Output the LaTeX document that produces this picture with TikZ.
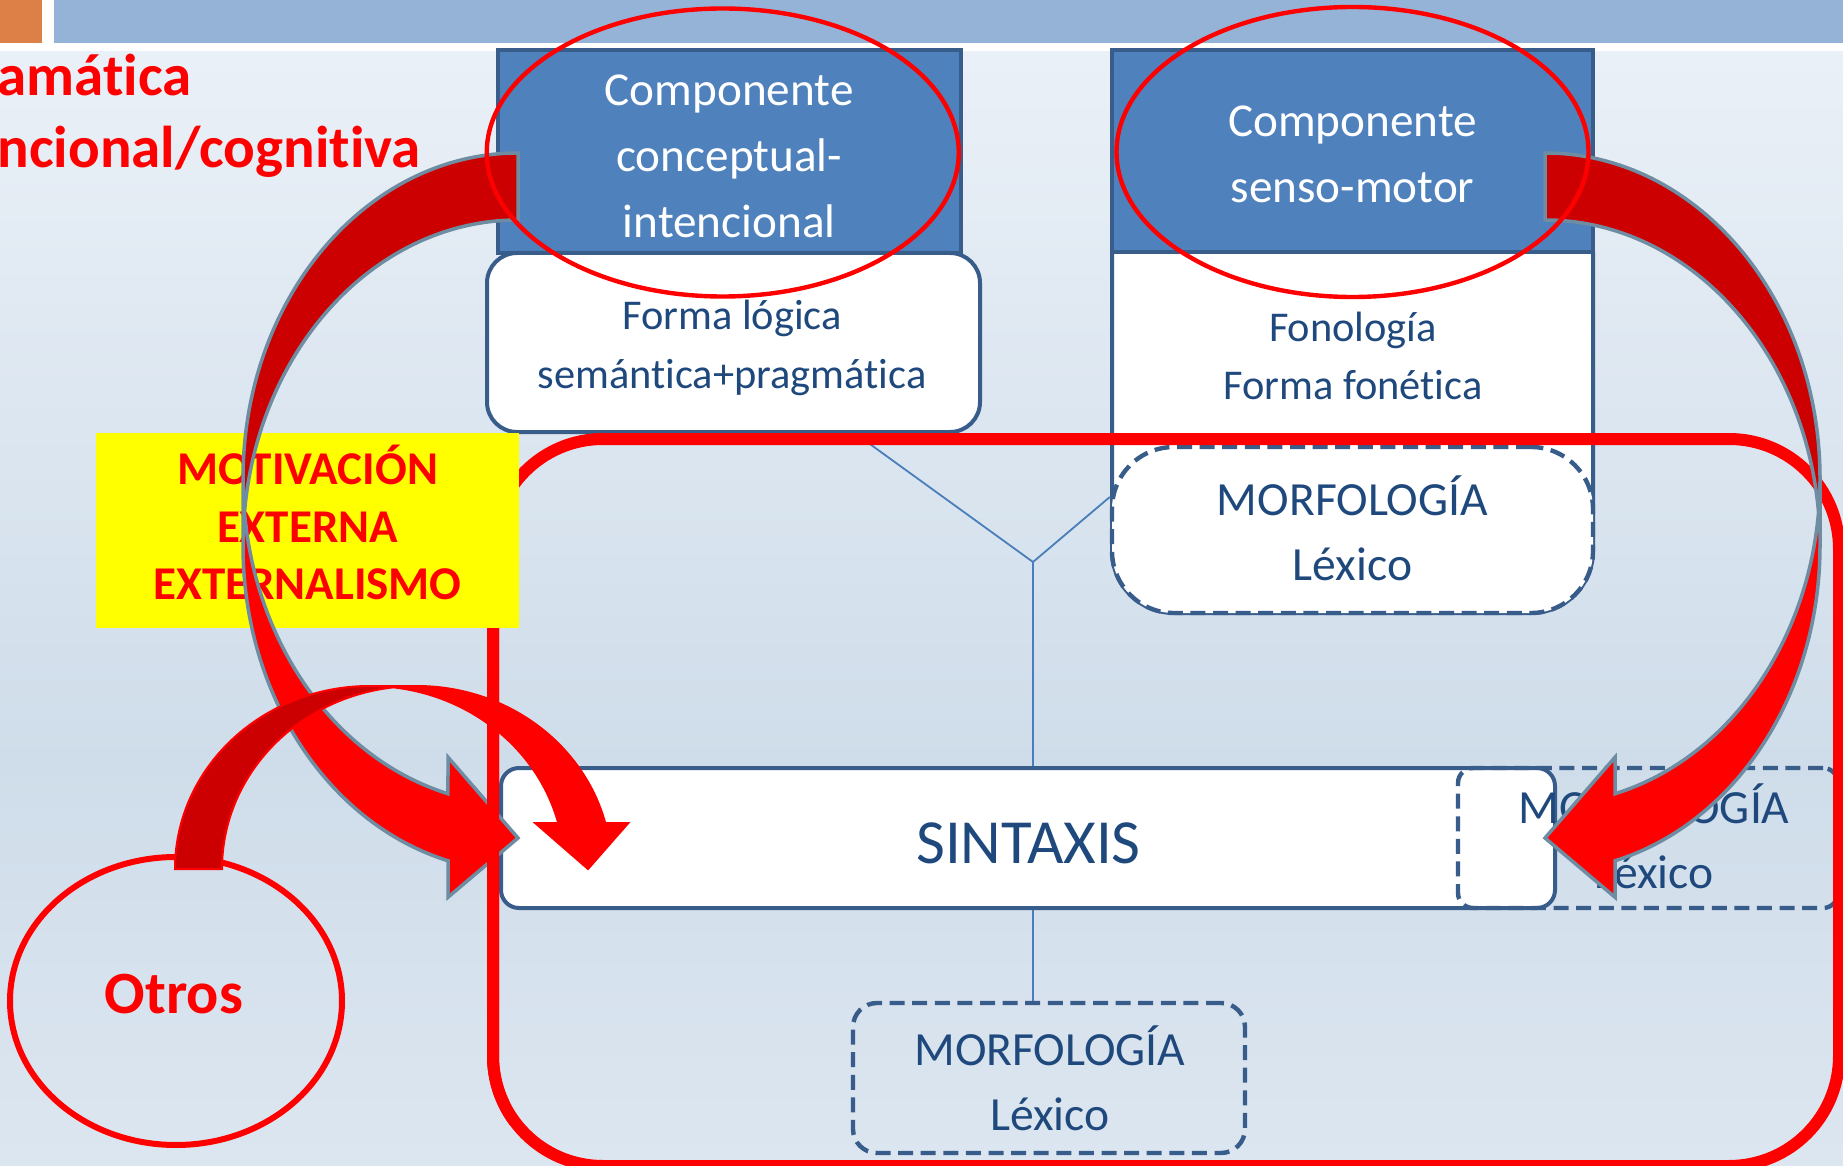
\documentclass[tikz,border=0pt]{standalone}
\usepackage{fontspec}
\setmainfont{Carlito}[Ligatures=NoCommon]
\usetikzlibrary{shapes.geometric}

\definecolor{bandBlue}{HTML}{95B3D7}
\definecolor{bandOrange}{HTML}{DD8047}
\definecolor{compBlue}{HTML}{4F81BD}
\definecolor{boxLine}{HTML}{385D8A}
\definecolor{txtBlue}{HTML}{1F497D}
\definecolor{yLine}{HTML}{4A7EBB}
\definecolor{redMain}{HTML}{FF0000}
\definecolor{redDark}{HTML}{CC0000}
\definecolor{arrEdge}{HTML}{6E8CA2}
\definecolor{bgTop}{HTML}{EAF0F7}
\definecolor{bgMid}{HTML}{CFDDEA}
\definecolor{bgBot}{HTML}{DCE6F0}
\definecolor{noteYellow}{HTML}{FFFF00}

\tikzset{
  compbox/.style={rectangle, fill=compBlue, draw=boxLine, line width=2pt, inner sep=0pt},
  whitebox/.style={rectangle, fill=white, draw=boxLine, line width=2pt, inner sep=0pt},
  dashbox/.style={rectangle, draw=boxLine, line width=2.2pt, dash pattern=on 7.5pt off 3.8pt, inner sep=0pt},
  redring/.style={ellipse, draw=redMain, line width=2.2pt, inner sep=0pt},
  comptext/.style={text=white, align=center, inner sep=0pt, font=\fontsize{23.6}{33}\selectfont},
  formtext/.style={text=txtBlue, align=center, inner sep=0pt, font=\fontsize{21.2}{29}\selectfont},
  morftext/.style={text=txtBlue, align=center, inner sep=0pt, font=\fontsize{23.8}{32.5}\selectfont},
  redframe/.style={draw=redMain, line width=6pt, rounded corners=55pt},
  yconn/.style={draw=yLine, line width=0.9pt},
  arcA/.style={x radius=275, y radius=325.75},
  arcB/.style={x radius=194.75, y radius=183},
}

% curved block arrow: tail top right, head bottom right (pixel units)
\newcommand{\bandArrow}{%
  \fill[redDark] (518,220) arc[arcA, start angle=270, end angle=185.9]
    arc[arcA, start angle=174.1, end angle=270] -- cycle;
  \fill[redMain] (243,478.75) arc[arcA, start angle=180, end angle=104.75]
    -- (448,757.25) -- (518,838) -- (448,897.25) -- (448,860.75)
    arc[arcA, start angle=104.75, end angle=180] -- cycle;
  \draw[arrEdge, line width=1.75pt] (243,478.75) arc[arcA, start angle=180, end angle=104.75]
    -- (448,757.25) -- (518,838) -- (448,897.25) -- (448,860.75)
    arc[arcA, start angle=104.75, end angle=180] -- (243,478.75)
    arc[arcA, start angle=180, end angle=270] -- (518,220)
    arc[arcA, start angle=270, end angle=185.9];
}

\begin{document}
\begin{tikzpicture}[x=0.5pt, y=-0.5pt]
  \useasboundingbox (0,0) rectangle (1843,1166);
  \clip (0,0) rectangle (1843,1166);

  % slide background
  \fill[white] (0,0) rectangle (1843,52);
  \shade[top color=bgTop, bottom color=bgMid] (0,52) rectangle (1843,760);
  \shade[top color=bgMid, bottom color=bgBot] (0,760) rectangle (1843,1166);
  \fill[bandOrange] (0,0) rectangle (42,43);
  \fill[bandBlue] (54,0) rectangle (1843,43);

  \node[anchor=north west, inner sep=0pt, align=left, text=redMain,
        font=\bfseries\fontsize{29.5}{36}\selectfont] (title) at (-3,44.6)
        {\strut amática\\ncional/cognitiva\strut};

  % left column
  \node[compbox, minimum width=231.75pt, minimum height=101.5pt] (cci) at (729.25,151.5) {};
  \node[comptext] (cciTxt) at ([yshift=-3.65pt]cci.center) {\strut Componente\\conceptual-\\intencional\strut};
  \node[whitebox, rounded corners=15pt, minimum width=246.5pt, minimum height=89.5pt] (fl) at (733.5,342.5) {};
  \node[formtext] (flTxt) at ([xshift=-0.75pt, yshift=-2.45pt]fl.center) {\strut Forma lógica\\semántica+pragmática\strut};

  % right column
  \node[whitebox, rounded corners=31pt, minimum width=240.5pt, minimum height=211.5pt] (fono) at (1352.5,401.5) {};
  \node[compbox, minimum width=240.5pt, minimum height=101pt] (csm) at (1352.5,151) {};
  \node[comptext] (csmTxt) at ([yshift=-2.9pt]csm.center) {\strut Componente\\senso-motor\strut};
  \node[formtext] (fonoTxt) at (1353,359.4) {\strut Fonología\\Forma fonética\strut};
  \node[dashbox, fill=white, rounded corners=31pt, minimum width=240.5pt, minimum height=83pt] (morf1) at (1352.5,530) {};
  \node[morftext] (morf1Txt) at ([yshift=-2.25pt]morf1.center) {\strut MORFOLOGÍA\\Léxico\strut};

  % syntax and lexicon
  \node[whitebox, rounded corners=9pt, minimum width=527pt, minimum height=70pt] (sint) at (1028,838) {};
  \node[text=txtBlue, font=\fontsize{31.4}{38}\selectfont, anchor=base, inner sep=0pt] (sintTxt) at (1028.5,863) {SINTAXIS};
  \node[dashbox, rounded corners=7.5pt, minimum width=190pt, minimum height=70pt] (morf2) at (1648,838) {};
  \node[morftext] (morf2Txt) at ([xshift=3pt, yshift=-2.25pt]morf2.center) {\strut MORFOLOGÍA\\Léxico\strut};
  \node[dashbox, rounded corners=12pt, minimum width=196pt, minimum height=75pt] (morf3) at (1049,1078) {};
  \node[morftext] (morf3Txt) at ([xshift=0.5pt, yshift=-3.25pt]morf3.center) {\strut MORFOLOGÍA\\Léxico\strut};

  \coordinate (junc) at (1033,562);
  \draw[yconn] ([xshift=61.25pt]fl.south) -- (junc);
  \draw[yconn] ([yshift=16.5pt]morf1.west) -- (junc);
  \draw[yconn] (junc) -- (junc |- sint.north);
  \draw[yconn] (sint.south -| junc) -- (morf3.north -| junc);

  % red frame round the grammar
  \draw[redframe] (493,439) rectangle (1839,1166);

  \node[fill=noteYellow, minimum width=211.5pt, minimum height=97.5pt, inner sep=0pt, align=center,
        text=redMain, font=\bfseries\fontsize{23.5}{28.75}\selectfont] (motiv) at (307.5,530.5)
        {\strut MOTIVACIÓN\\EXTERNA\\EXTERNALISMO\strut};

  \node[redring, line width=3pt, minimum width=166pt, minimum height=144pt] (otros) at (176,1001) {};
  \node[text=redMain, font=\bfseries\fontsize{30}{36}\selectfont, anchor=base, inner sep=0pt] (otrosTxt) at (174,1013) {Otros};

  % arrow from the conceptual-intentional component
  \bandArrow
  \begin{scope}
    \clip (480,628) rectangle (510,1166);
    \draw[redframe] (493,439) rectangle (1839,1166);
  \end{scope}
  % arrow from the senso-motor component (mirrored)
  \begin{scope}[xshift=1031.5pt, xscale=-1]
    \bandArrow
  \end{scope}

  % arrow from Otros
  \fill[redDark] (222,869) arc[arcB, start angle=180, end angle=263.07]
    arc[arcB, start angle=276.93, end angle=180] -- cycle;
  \fill[redMain] (369.75,686) arc[arcB, start angle=270, end angle=345.47]
    -- (535.25,823.1) -- (588,869) -- (628.25,823.1) -- (605.25,823.1)
    arc[arcB, start angle=345.47, end angle=270] -- cycle;
  \draw[redMain, line width=1pt] (369.75,686) arc[arcB, start angle=270, end angle=345.47]
    -- (535.25,823.1) -- (588,869) -- (628.25,823.1) -- (605.25,823.1)
    arc[arcB, start angle=345.47, end angle=270] -- (369.75,686)
    arc[arcB, start angle=270, end angle=180] -- (222,869)
    arc[arcB, start angle=180, end angle=263.07];

  \node[redring, minimum width=236pt, minimum height=144pt] (ringL) at (722.75,152.5) {};
  \node[redring, minimum width=236pt, minimum height=145pt] (ringR) at (1352.5,152) {};
\end{tikzpicture}
\end{document}
